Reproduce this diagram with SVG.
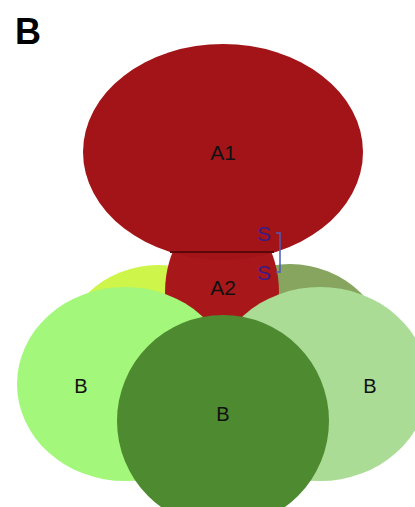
<svg xmlns="http://www.w3.org/2000/svg" width="415" height="507" viewBox="0 0 415 507">
<style>
text{font-family:"Liberation Sans",Arial,sans-serif;fill:#111;text-anchor:middle}
.lbl{font-size:20px}
.s{font-size:21px;fill:#3a1c86}
</style>
<defs>
<clipPath id="a2clip"><rect x="0" y="252" width="415" height="255"/></clipPath>
</defs>
<rect width="415" height="507" fill="#fff"/>
<text x="28" y="44" style="font-size:36px;font-weight:bold;fill:#000">B</text>
<g id="B_back_left"><ellipse cx="158" cy="363" rx="100" ry="98" fill="#cdf54a"/></g>
<g id="B_back_right"><ellipse cx="290" cy="362" rx="100" ry="98" fill="#87a55f"/></g>
<g id="A2">
<ellipse cx="222" cy="292" rx="57" ry="80" fill="#a8181a" clip-path="url(#a2clip)"/>
</g>
<g id="B_left"><ellipse cx="125" cy="384" rx="108" ry="97" fill="#a3f77b"/><text class="lbl" x="81" y="393">B</text></g>
<g id="B_right"><ellipse cx="320" cy="384" rx="108" ry="97" fill="#aadc96"/><text class="lbl" x="370" y="393">B</text></g>
<g id="B_center"><circle cx="223" cy="421" r="106" fill="#4e8a30"/><text class="lbl" x="223" y="421">B</text></g>
<g id="A1"><ellipse cx="223" cy="152" rx="140" ry="108" fill="#a31418"/><text class="lbl" x="223" y="160" style="font-size:21px">A1</text></g>
<text class="lbl" x="223" y="295" style="font-size:21px">A2</text>
<g id="connectors">
<line x1="170" y1="252" x2="274" y2="252" stroke="#5a0808" stroke-width="2"/>
<path d="M276 233 H280 V272 H276" fill="none" stroke="#4c5cb8" stroke-width="1.5"/>
</g>
<text class="s" x="264" y="241">S</text>
<text class="s" x="264" y="280">S</text>
</svg>
